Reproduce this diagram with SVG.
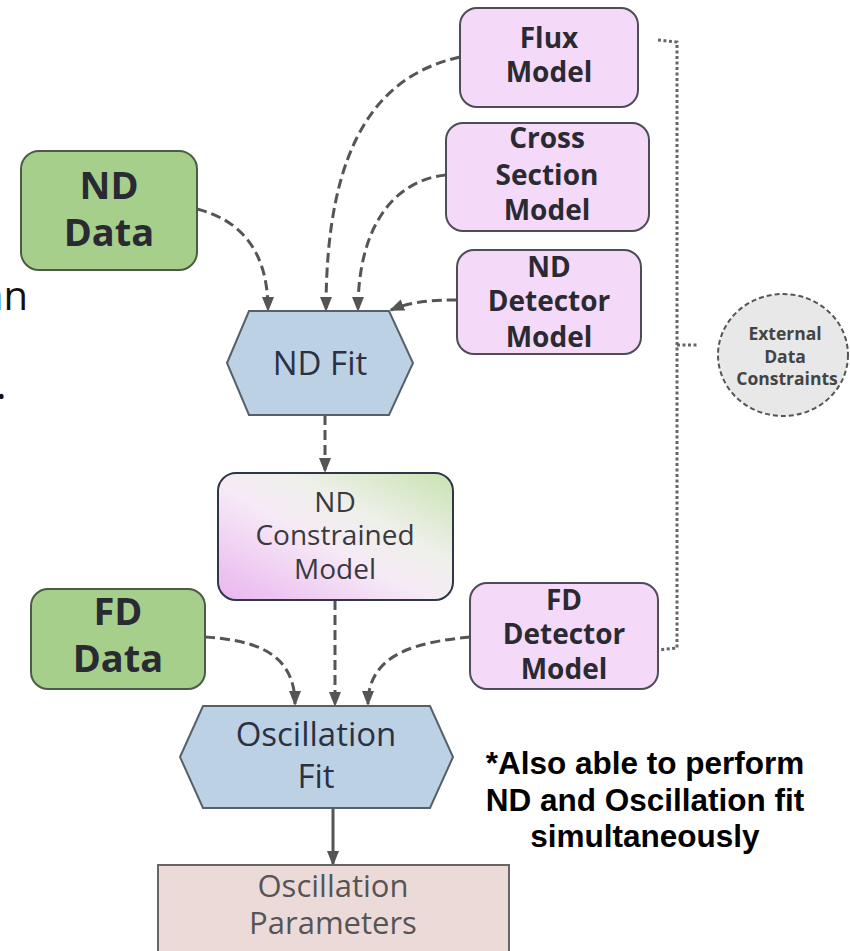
<svg xmlns="http://www.w3.org/2000/svg" width="850" height="951" viewBox="0 0 850 951">
<defs>
<marker id="ah" markerWidth="15" markerHeight="12" refX="13" refY="6" orient="auto" markerUnits="userSpaceOnUse" viewBox="0 0 15 12">
<path d="M0,0 L15,6 L0,12 Z" fill="#555"/>
</marker>
<linearGradient id="cg" x1="0" y1="1" x2="1" y2="0">
<stop offset="0" stop-color="#eab4f0"/>
<stop offset="0.45" stop-color="#f6eaf6"/>
<stop offset="0.65" stop-color="#eef0ea"/>
<stop offset="1" stop-color="#c8e2b0"/>
</linearGradient>
</defs>
<style>
.lbl{font-family:"Open Sans","Noto Sans",sans-serif;font-weight:700;fill:#2a2a33;text-anchor:middle}
.reg{font-family:"Open Sans","Noto Sans",sans-serif;font-weight:400;text-anchor:middle}
.green{fill:#a6cf8b;stroke:#4c5c44;stroke-width:2}
.pink{fill:#f5d9f8;stroke:#4d4d58;stroke-width:2}
.hex{fill:#bdd1e5;stroke:#56606b;stroke-width:2}
.dash{fill:none;stroke:#555;stroke-width:3;stroke-dasharray:10 5;marker-end:url(#ah)}
.dot{fill:none;stroke:#666;stroke-width:3;stroke-dasharray:3 2.5}
</style>
<rect width="850" height="951" fill="#fff"/>
<text x="28" y="310" font-family="Open Sans, Noto Sans, sans-serif" font-size="40" fill="#111" text-anchor="end">an</text>
<text x="-4" y="399" font-family="Open Sans, Noto Sans, sans-serif" font-size="40" fill="#111">.</text>

<g id="connectors">
<path class="dash" d="M197,209 C240,220 268,250 268,310"/>
<path class="dash" d="M460,57 C380,75 326,140 326,310"/>
<path class="dash" d="M446,175 C395,180 358,225 358,310"/>
<path class="dash" d="M457,300 C430,300 410,302 391,310"/>
<path class="dash" d="M325,415 L325,471"/>
<path class="dash" d="M335,600 L335,705"/>
<path class="dash" d="M205,637 C250,640 295,650 295,704"/>
<path class="dash" d="M470,637 C420,642 368,652 368,704"/>
<path d="M333,808 L333,864" fill="none" stroke="#555" stroke-width="3" marker-end="url(#ah)"/>
<path class="dot" d="M658,40 L677,42 L677,648 L658,650"/>
<path class="dot" d="M677,345 L698,345"/>
</g>

<g id="nd-data">
<rect class="green" x="21" y="151" width="176" height="119" rx="18"/>
<text class="lbl" x="109" y="199" font-size="38">ND</text>
<text class="lbl" x="109" y="246" font-size="38">Data</text>
</g>

<g id="flux-model">
<rect class="pink" x="460" y="8" width="178" height="99" rx="17"/>
<text class="lbl" x="549" y="48" font-size="28">Flux</text>
<text class="lbl" x="549" y="82" font-size="28">Model</text>
</g>

<g id="cross-section-model">
<rect class="pink" x="446" y="123" width="203" height="108" rx="17"/>
<text class="lbl" x="547" y="148" font-size="28">Cross</text>
<text class="lbl" x="547" y="185" font-size="28">Section</text>
<text class="lbl" x="547" y="220" font-size="28">Model</text>
</g>

<g id="nd-detector-model">
<rect class="pink" x="457" y="250" width="184" height="104" rx="17"/>
<text class="lbl" x="549" y="277" font-size="28">ND</text>
<text class="lbl" x="549" y="311" font-size="28">Detector</text>
<text class="lbl" x="549" y="347" font-size="28">Model</text>
</g>

<g id="external-data-constraints">
<ellipse cx="783" cy="355" rx="65" ry="61" fill="#e8e8e8" stroke="#555" stroke-width="2" stroke-dasharray="5 3"/>
<text class="lbl" x="785" y="340" font-size="17.5" style="fill:#444">External</text>
<text class="lbl" x="785" y="363" font-size="17.5" style="fill:#444">Data</text>
<text class="lbl" x="787" y="385" font-size="17.5" style="fill:#444">Constraints</text>
</g>

<g id="nd-fit">
<polygon class="hex" points="227,363 249,311 389,311 413,363 389,415 249,415"/>
<text class="reg" x="320" y="375" font-size="33" fill="#2b3142">ND Fit</text>
</g>

<g id="nd-constrained-model">
<rect x="218" y="473" width="235" height="127" rx="18" fill="url(#cg)" stroke="#2e3648" stroke-width="2"/>
<text class="reg" x="335" y="512" font-size="28" fill="#3a3a3e">ND</text>
<text class="reg" x="335" y="545" font-size="28" fill="#3a3a3e">Constrained</text>
<text class="reg" x="335" y="579" font-size="28" fill="#3a3a3e">Model</text>
</g>

<g id="fd-data">
<rect class="green" x="31" y="589" width="174" height="100" rx="17"/>
<text class="lbl" x="118" y="625" font-size="38">FD</text>
<text class="lbl" x="118" y="672" font-size="38">Data</text>
</g>

<g id="fd-detector-model">
<rect class="pink" x="470" y="583" width="188" height="106" rx="17"/>
<text class="lbl" x="564" y="610" font-size="28">FD</text>
<text class="lbl" x="564" y="644" font-size="28">Detector</text>
<text class="lbl" x="564" y="679" font-size="28">Model</text>
</g>

<g id="oscillation-fit">
<polygon class="hex" points="180,757 203,706 430,706 453,757 430,808 203,808"/>
<text class="reg" x="316" y="746" font-size="33" fill="#2b3142">Oscillation</text>
<text class="reg" x="316" y="788" font-size="33" fill="#2b3142">Fit</text>
</g>

<g id="oscillation-parameters">
<rect x="158" y="865" width="351" height="100" fill="#ecdad9" stroke="#666" stroke-width="2"/>
<text class="reg" x="333" y="897" font-size="31" fill="#555">Oscillation</text>
<text class="reg" x="333" y="934" font-size="31" fill="#555">Parameters</text>
</g>

<g id="note">
<text x="645" y="774" font-family="Liberation Sans, Arial, sans-serif" font-weight="700" font-size="31.5" fill="#000" text-anchor="middle">*Also able to perform</text>
<text x="645" y="811" font-family="Liberation Sans, Arial, sans-serif" font-weight="700" font-size="31.5" fill="#000" text-anchor="middle">ND and Oscillation fit</text>
<text x="645" y="847" font-family="Liberation Sans, Arial, sans-serif" font-weight="700" font-size="31.5" fill="#000" text-anchor="middle">simultaneously</text>
</g>
</svg>
